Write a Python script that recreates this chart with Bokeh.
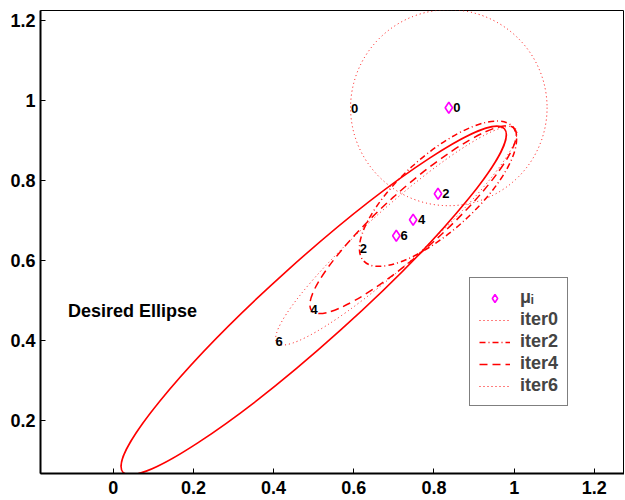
import numpy as np
from bokeh.plotting import figure
from bokeh.models import Range1d, FixedTicker, Legend, LegendItem
from bokeh.core.properties import value
from bokeh.embed import file_html
from bokeh.resources import INLINE

# ---------------- data ----------------
# desired (target) ellipse
desired_cx = [0.50]
desired_cy = [0.50]
desired_semi_major = [0.64]
desired_semi_minor = [0.10]
desired_angle_deg = [42.0]

# iterations
iter_names = ["iter0", "iter2", "iter4", "iter6"]
iter_numbers = ["0", "2", "4", "6"]
mu_x = [0.837, 0.810, 0.748, 0.706]
mu_y = [0.982, 0.767, 0.702, 0.662]
iter_semi_major = [0.245, 0.25, 0.34, 0.40]
iter_semi_minor = [0.245, 0.094, 0.075, 0.07]
iter_angle_deg = [0.0, 42.0, 42.0, 42.0]

# iteration labels at the lower-left end of each ellipse
ell_label_x = [0.593, 0.615, 0.492, 0.405]
ell_label_y = [0.980, 0.630, 0.477, 0.398]
# iteration labels next to the means
mu_label_x = [0.848, 0.8205, 0.760, 0.7165]

annotation_text = ["Desired Ellipse"]
annotation_x = [-0.113]
annotation_y = [0.475]

x_ticks = [0, 0.2, 0.4, 0.6, 0.8, 1, 1.2]
x_tick_labels = ["0", "0.2", "0.4", "0.6", "0.8", "1", "1.2"]
y_ticks = [0.2, 0.4, 0.6, 0.8, 1, 1.2]
y_tick_labels = ["0.2", "0.4", "0.6", "0.8", "1", "1.2"]

# ---------------- styles ----------------
RED = "#ff0000"
MAGENTA = "#ff00ff"
FONT = "Liberation Sans"
iter_styles = [
    dict(line_dash="1 3", line_width=1.0),
    dict(line_dash="6 3 1 3", line_width=1.5),
    dict(line_dash="8 5", line_width=1.5),
    dict(line_dash="1 3", line_width=1.0),
]

p = figure(width=624, height=498,
           x_range=Range1d(-0.1813, 1.2751), y_range=Range1d(0.0675, 1.225),
           output_backend="svg", toolbar_location=None,
           min_border_left=40, min_border_right=0, min_border_top=10, min_border_bottom=25)
p.grid.visible = False
p.background_fill_color = "white"
p.border_fill_color = "white"
p.outline_line_color = "black"
p.outline_line_width = 1

for ax in (p.xaxis[0], p.yaxis[0]):
    ax.axis_line_width = 2
    ax.axis_line_color = "black"
    ax.major_tick_in = 5
    ax.major_tick_out = 0
    ax.major_tick_line_width = 1
    ax.major_tick_line_color = "black"
    ax.minor_tick_line_color = None
    ax.major_label_text_font = FONT
    ax.major_label_text_font_style = "bold"
    ax.major_label_text_font_size = "18px"
    ax.major_label_text_color = "black"
p.xaxis.ticker = FixedTicker(ticks=x_ticks)
p.xaxis.major_label_overrides = dict(zip(x_ticks, x_tick_labels))
p.yaxis.ticker = FixedTicker(ticks=y_ticks)
p.yaxis.major_label_overrides = dict(zip(y_ticks, y_tick_labels))
p.xaxis.major_label_standoff = 7
p.yaxis.major_label_standoff = 5

# desired ellipse
p.ellipse(x=desired_cx, y=desired_cy,
          width=[2 * a for a in desired_semi_major],
          height=[2 * b for b in desired_semi_minor],
          angle=desired_angle_deg, angle_units="deg",
          fill_color=None, line_color=RED, line_width=1.6)

# iteration ellipses + legend proxies
legend_line_renderers = []
for i in range(len(iter_names)):
    p.ellipse(x=[mu_x[i]], y=[mu_y[i]],
              width=[2 * iter_semi_major[i]], height=[2 * iter_semi_minor[i]],
              angle=[iter_angle_deg[i]], angle_units="deg",
              fill_color=None, line_color=RED, **iter_styles[i])
    r = p.line(x=[np.nan], y=[np.nan], line_color=RED, **iter_styles[i])
    legend_line_renderers.append(r)

# means
mu_r = p.scatter(x=mu_x, y=mu_y, marker="diamond", size=11,
                 fill_color=None, line_color=MAGENTA, line_width=1.6)

# labels
p.text(x=mu_label_x, y=mu_y, text=iter_numbers,
       text_font=value(FONT), text_font_style="bold", text_font_size="13px",
       text_align="left", text_baseline="middle", text_color="black")
p.text(x=ell_label_x, y=ell_label_y, text=iter_numbers,
       text_font=value(FONT), text_font_style="bold", text_font_size="13px",
       text_align="left", text_baseline="middle", text_color="black")
p.text(x=annotation_x, y=annotation_y, text=annotation_text,
       text_font=value(FONT), text_font_style="bold", text_font_size="18px",
       text_align="left", text_baseline="middle", text_color="black")

items = [LegendItem(label=value("\u03bc\u1d62"), renderers=[mu_r])]
for name, r in zip(iter_names, legend_line_renderers):
    items.append(LegendItem(label=value(name), renderers=[r]))
legend = Legend(items=items, location=(429, 67))
legend.label_text_font = FONT
legend.label_text_font_style = "bold"
legend.label_text_font_size = "18px"
legend.glyph_width = 31
legend.glyph_height = 20
legend.label_standoff = 10
legend.label_height = 20
legend.padding = 9
legend.spacing = 1
legend.margin = 0
legend.border_line_color = "black"
legend.border_line_width = 1
legend.background_fill_color = "white"
legend.background_fill_alpha = 1.0
p.add_layout(legend)

open("out.html", "w").write(file_html(p, INLINE))
